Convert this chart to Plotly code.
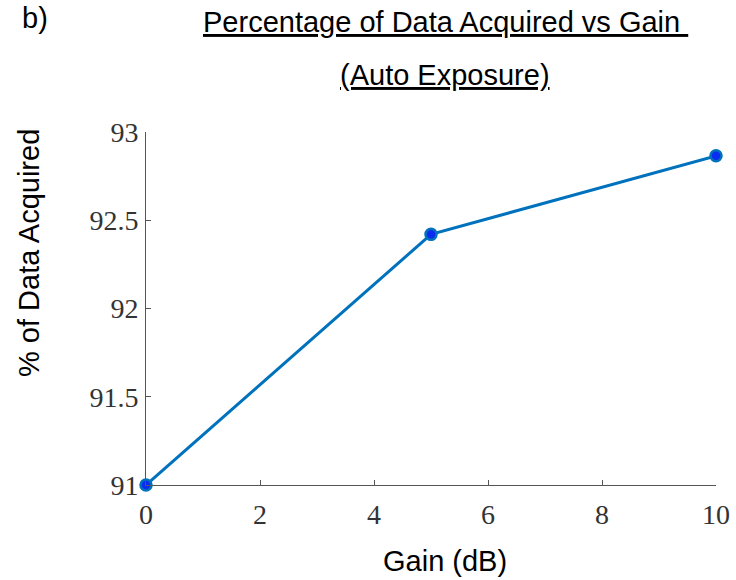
import plotly.graph_objects as go

# Measured data: percentage of data acquired at each camera gain (auto exposure)
gain_db = [0, 5, 10]
pct_acquired = [91.0, 92.42, 92.865]

x_ticks = [0, 2, 4, 6, 8, 10]
y_ticks = [91, 91.5, 92, 92.5, 93]
y_tick_text = ["91", "91.5", "92", "92.5", "93"]

line_color = "#0072BD"
axis_color = "#555555"
sans = "Liberation Sans, Arial, sans-serif"
tick_font = dict(family="Liberation Serif, Times New Roman, serif", size=28, color="#333333")
label_font = dict(family=sans, size=29, color="#000000")
title_font = dict(family=sans, size=29, color="#000000", lineposition="under")

# plot area in pixels, used to place the free-standing labels
L, R, T, B = 146, 716, 132, 485
W, H = R - L, B - T


def px(x):
    return (x - L) / W


def py(y):
    return (B - y) / H


fig = go.Figure()
fig.add_trace(go.Scatter(
    x=gain_db, y=pct_acquired, mode="lines+markers",
    line=dict(color=line_color, width=3),
    marker=dict(size=11, color="#0a2cf0", line=dict(color=line_color, width=2.5)),
    cliponaxis=False, showlegend=False,
))

fig.update_layout(
    width=736, height=580,
    margin=dict(l=L, r=736 - R, t=T, b=580 - B),
    paper_bgcolor="white", plot_bgcolor="white",
    xaxis=dict(
        range=[0, 10], tickvals=x_ticks, ticks="inside", ticklen=5, automargin=False,
        tickcolor=axis_color, showline=True, linecolor=axis_color, linewidth=1,
        showgrid=False, zeroline=False, tickfont=tick_font, ticklabelstandoff=4,
    ),
    yaxis=dict(
        range=[91, 93], tickvals=y_ticks, ticktext=y_tick_text, ticks="inside", ticklen=5,
        automargin=False,
        tickcolor=axis_color, showline=True, linecolor=axis_color, linewidth=1,
        showgrid=False, zeroline=False, tickfont=tick_font, ticklabelstandoff=1,
    ),
)

fig.add_annotation(text="Gain (dB)", xref="paper", yref="paper", x=px(445), y=py(561),
                   xanchor="center", yanchor="middle", showarrow=False, font=label_font)
fig.add_annotation(text="% of Data Acquired", xref="paper", yref="paper", x=px(29), y=py(253),
                   xanchor="center", yanchor="middle", textangle=-90, showarrow=False,
                   font=label_font)
fig.add_annotation(text="Percentage of Data Acquired vs Gain ", xref="paper", yref="paper",
                   x=px(445), y=py(22), xanchor="center", yanchor="middle",
                   showarrow=False, font=title_font)
fig.add_annotation(text="(Auto Exposure)", xref="paper", yref="paper",
                   x=px(445), y=py(75), xanchor="center", yanchor="middle",
                   showarrow=False, font=title_font)
fig.add_annotation(text="b)", xref="paper", yref="paper", x=px(20), y=py(18),
                   xanchor="left", yanchor="middle", showarrow=False,
                   font=dict(family=sans, size=29, color="#000000"))

fig.write_html("out.html")
